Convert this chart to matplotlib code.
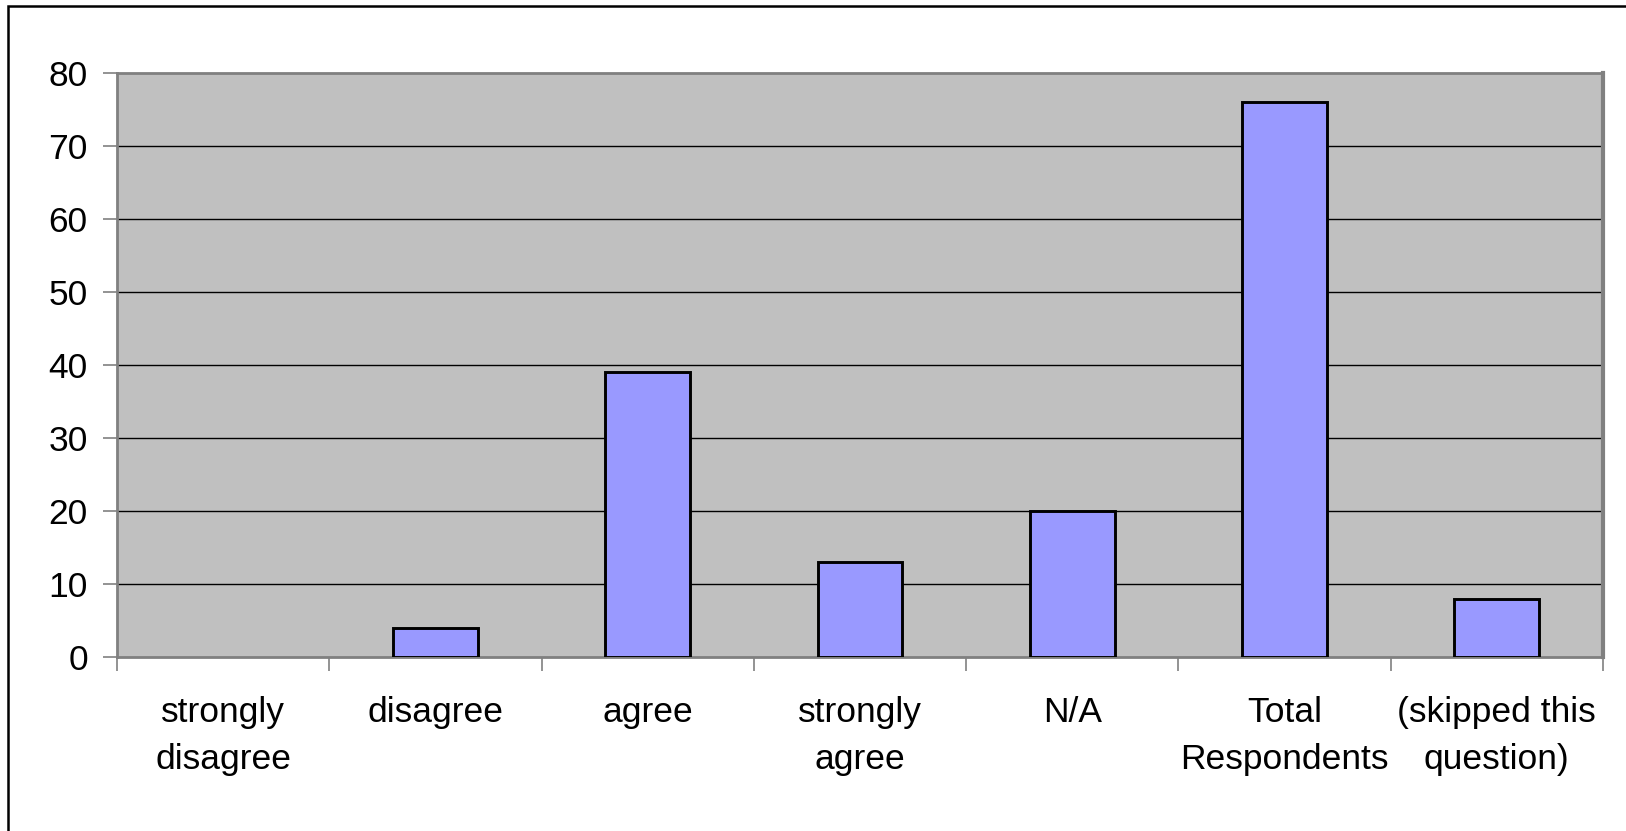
import matplotlib
matplotlib.use("Agg")
import matplotlib.pyplot as plt
from matplotlib.patches import Rectangle
import numpy as np

categories = ["strongly\ndisagree", "disagree", "agree", "strongly\nagree", "N/A",
              "Total\nRespondents", "(skipped this\nquestion)"]
values = [0, 4, 39, 13, 20, 76, 8]
yticks = [0, 10, 20, 30, 40, 50, 60, 70, 80]

plt.rcParams['font.family'] = ['Liberation Sans', 'DejaVu Sans']

W, H = 1626, 831
fig = plt.figure(figsize=(W / 100, H / 100), dpi=100)
ax = fig.add_axes([117 / W, (H - 657) / H, (1603 - 117) / W, (657 - 73) / H])

ax.set_facecolor('#C0C0C0')
x = np.arange(len(categories))
lws = [2.1 if v > 0 else 0 for v in values]
ax.bar(x, values, width=0.4, color='#9999FF', edgecolor='black', linewidth=lws, zorder=3)

ax.set_ylim(0, 80)
ax.set_xlim(-0.5, len(categories) - 0.5)
ax.set_yticks(yticks)
ax.set_yticklabels([str(v) for v in yticks], fontsize=25.5)
for v in yticks[1:-1]:
    ax.axhline(v, color='black', linewidth=1.0, zorder=1)

ax.set_xticks(np.arange(-0.5, len(categories), 1.0))
ax.set_xticklabels([])
ax.set_xticks(x, minor=True)
ax.set_xticklabels(categories, minor=True, fontsize=25.5, linespacing=1.55)
ax.tick_params(axis='x', which='minor', length=0, pad=28)
ax.tick_params(axis='x', which='major', length=10, width=1.2, color='#808080', direction='out')
ax.tick_params(axis='y', length=10, width=1.2, color='#808080', direction='out', pad=11)

for side in ['top', 'bottom', 'left']:
    ax.spines[side].set_color('#808080')
    ax.spines[side].set_linewidth(2.0)
ax.spines['right'].set_color('#808080')
ax.spines['right'].set_linewidth(3.0)

border = Rectangle((8 / W, -0.1), 1.2, 1.1 - 6 / H, transform=fig.transFigure,
                   fill=False, edgecolor='black', linewidth=1.8, clip_on=False)
fig.patches.append(border)

fig.savefig('out.png', dpi=100)
